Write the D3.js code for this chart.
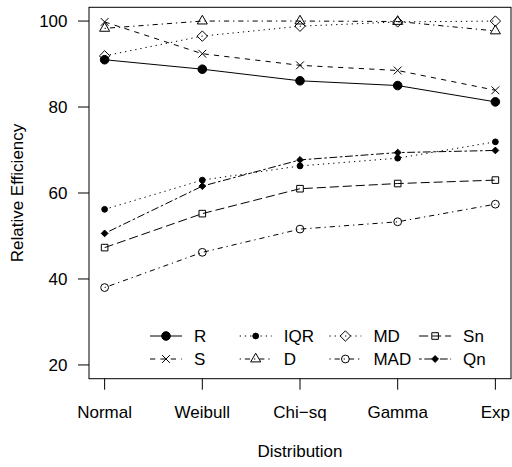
<!DOCTYPE html>
<html>
<head>
<meta charset="utf-8">
<script src="https://cdn.jsdelivr.net/npm/d3@7"></script>
<style>
  body { margin: 0; background: white; }
  text { font-family: "Liberation Sans", Arial, Helvetica, sans-serif; font-size: 17px; fill: black; }
</style>
</head>
<body>
<div id="chart"></div>
<script>
const width = 512;
const height = 467;

const distributions = ["Normal", "Weibull", "Chi\u2212sq", "Gamma", "Exp"];
const yTicks = [20, 40, 60, 80, 100];

const estimators = ["R", "S", "IQR", "D", "MD", "MAD", "Sn", "Qn"];
const valuesR = [91.0, 88.8, 86.1, 85.0, 81.2];
const valuesS = [99.8, 92.4, 89.7, 88.5, 83.9];
const valuesIQR = [56.2, 63.0, 66.3, 68.1, 71.9];
const valuesD = [98.3, 100, 100, 99.9, 97.7];
const valuesMD = [91.9, 96.5, 98.8, 99.8, 100];
const valuesMAD = [38.0, 46.2, 51.6, 53.3, 57.4];
const valuesSn = [47.3, 55.2, 61.0, 62.2, 63.0];
const valuesQn = [50.6, 61.6, 67.7, 69.4, 69.9];

const allValues = [valuesR, valuesS, valuesIQR, valuesD, valuesMD, valuesMAD, valuesSn, valuesQn];

// R style line types, scaled a bit for this resolution
const u = 1.3;
const lty = {
    solid: null,
    dashed: [4 * u, 4 * u],
    dotted: [1 * u, 3 * u],
    dotdash: [1 * u, 3 * u, 4 * u, 3 * u],
    longdash: [7 * u, 3 * u],
    twodash: [2 * u, 2 * u, 6 * u, 2 * u]
};
const lineTypes = ["solid", "dashed", "dotted", "dotdash", "dotted", "dotdash", "longdash", "twodash"];
const pchs = ["circleFilled", "cross", "dot", "triangle", "diamond", "circle", "square", "diamondFilled"];

const series = estimators.map((name, i) => ({
    name: name,
    values: allValues[i],
    lty: lineTypes[i],
    pch: pchs[i]
}));

const plot = { left: 89, right: 511, top: 7.3, bottom: 378.7 };

const x = d3.scaleLinear().domain([0.84, 5.16]).range([plot.left, plot.right]);
const y = d3.scaleLinear().domain([16.8, 103.2]).range([plot.bottom, plot.top]);

const svg = d3.select("#chart").append("svg")
    .attr("width", width)
    .attr("height", height);

function symbolPath(pch, cx, cy) {
    const p = d3.path();
    if (pch === "circleFilled") { p.arc(cx, cy, 4.3, 0, 2 * Math.PI); }
    else if (pch === "circle") { p.arc(cx, cy, 3.9, 0, 2 * Math.PI); }
    else if (pch === "dot") { p.arc(cx, cy, 2.9, 0, 2 * Math.PI); }
    else if (pch === "cross") {
        const a = 3.9;
        p.moveTo(cx - a, cy - a); p.lineTo(cx + a, cy + a);
        p.moveTo(cx - a, cy + a); p.lineTo(cx + a, cy - a);
    } else if (pch === "triangle") {
        const r = 5.8;
        p.moveTo(cx, cy - r);
        p.lineTo(cx + r * Math.sqrt(3) / 2, cy + r / 2);
        p.lineTo(cx - r * Math.sqrt(3) / 2, cy + r / 2);
        p.closePath();
    } else if (pch === "diamond") {
        const r = 5.2;
        p.moveTo(cx, cy - r); p.lineTo(cx + r, cy); p.lineTo(cx, cy + r); p.lineTo(cx - r, cy);
        p.closePath();
    } else if (pch === "diamondFilled") {
        const r = 3.4;
        p.moveTo(cx, cy - r); p.lineTo(cx + r, cy); p.lineTo(cx, cy + r); p.lineTo(cx - r, cy);
        p.closePath();
    } else if (pch === "square") {
        const r = 3.3;
        p.rect(cx - r, cy - r, 2 * r, 2 * r);
    }
    return p.toString();
}

const filled = pch => pch === "circleFilled" || pch === "dot" || pch === "diamondFilled";

function drawSymbol(g, pch, cx, cy) {
    g.append("path")
        .attr("d", symbolPath(pch, cx, cy))
        .attr("fill", filled(pch) ? "black" : "none")
        .attr("stroke", "black")
        .attr("stroke-width", 1);
}

// lines
const line = d3.line()
    .x((d, i) => x(i + 1))
    .y(d => y(d));

const lines = svg.append("g").attr("fill", "none");
series.forEach(s => {
    lines.append("path")
        .attr("d", line(s.values))
        .attr("stroke", "black")
        .attr("stroke-width", 1)
        .attr("stroke-dasharray", lty[s.lty] ? lty[s.lty].join(",") : null);
});

// points
const points = svg.append("g");
series.forEach(s => {
    s.values.forEach((v, i) => drawSymbol(points, s.pch, x(i + 1), y(v)));
});

// box
svg.append("rect")
    .attr("x", plot.left)
    .attr("y", plot.top)
    .attr("width", plot.right - plot.left)
    .attr("height", plot.bottom - plot.top)
    .attr("fill", "none")
    .attr("stroke", "black")
    .attr("stroke-width", 1);

// axes (R look: ticks outside, labels horizontal)
const xAxis = svg.append("g");
distributions.forEach((d, i) => {
    xAxis.append("line")
        .attr("x1", x(i + 1)).attr("x2", x(i + 1))
        .attr("y1", plot.bottom).attr("y2", plot.bottom + 11)
        .attr("stroke", "black").attr("stroke-width", 1);
    xAxis.append("text")
        .attr("x", x(i + 1))
        .attr("y", 418)
        .attr("text-anchor", "middle")
        .text(d);
});

const yAxis = svg.append("g");
yTicks.forEach(t => {
    yAxis.append("line")
        .attr("x1", plot.left - 11).attr("x2", plot.left)
        .attr("y1", y(t)).attr("y2", y(t))
        .attr("stroke", "black").attr("stroke-width", 1);
    yAxis.append("text")
        .attr("x", 67.5)
        .attr("y", y(t) + 6.2)
        .attr("text-anchor", "end")
        .text(t);
});

svg.append("text")
    .attr("x", (plot.left + plot.right) / 2)
    .attr("y", 457)
    .attr("text-anchor", "middle")
    .text("Distribution");

svg.append("text")
    .attr("transform", `translate(23,${(plot.top + plot.bottom) / 2}) rotate(-90)`)
    .attr("text-anchor", "middle")
    .text("Relative Efficiency");

// legend, 2 rows, filled column by column
const legend = svg.append("g");
const legendCol0 = 166;
const legendColStep = 89.7;
const legendRows = [336, 359];
series.forEach((s, i) => {
    const cx = legendCol0 + Math.floor(i / 2) * legendColStep;
    const cy = legendRows[i % 2];
    legend.append("line")
        .attr("x1", cx - 16).attr("x2", cx + 16)
        .attr("y1", cy).attr("y2", cy)
        .attr("stroke", "black")
        .attr("stroke-width", 1)
        .attr("stroke-dasharray", lty[s.lty] ? lty[s.lty].join(",") : null);
    drawSymbol(legend, s.pch, cx, cy);
    legend.append("text")
        .attr("x", cx + 28)
        .attr("y", cy + 6.2)
        .text(s.name);
});
</script>
</body>
</html>
